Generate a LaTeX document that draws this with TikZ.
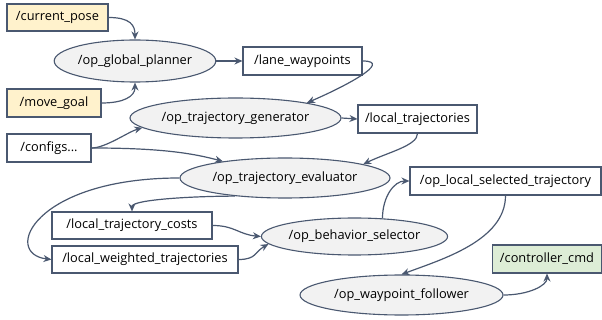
\documentclass[tikz,border=0pt]{standalone}
\usepackage{fontspec}
\setmainfont{Open Sans}
\usetikzlibrary{arrows.meta,shapes.geometric}
\definecolor{edgec}{HTML}{4A5870}
\definecolor{ellfill}{HTML}{F2F2F2}
\definecolor{yel}{HTML}{FFF2CC}
\definecolor{grn}{HTML}{DDEDD6}
\tikzset{
  box/.style={rectangle, draw=edgec, line width=1.1pt, fill=white, inner sep=0pt,
    font=\fontsize{12.8}{14}\selectfont, text=black},
  topic/.style={box, fill=white},
  ynode/.style={box, fill=yel},
  gnode/.style={box, fill=grn},
  proc/.style={ellipse, draw=edgec, line width=1.1pt, fill=ellfill, inner sep=0pt,
    font=\fontsize{12.8}{14}\selectfont, text=black},
  arr/.style={draw=edgec, line width=1.2pt, -{Stealth[length=8pt,width=7pt]}},
}
\begin{document}
\begin{tikzpicture}[x=1pt,y=-1pt]
\useasboundingbox (0,0) rectangle (602,320);
% topics
\node[ynode, minimum width=101, minimum height=27] (cp) at (57.5,17.5) {/current\_pose};
\node[ynode, minimum width=94, minimum height=28] (mg) at (54,103) {/move\_goal};
\node[topic, minimum width=119, minimum height=28] (lw) at (302.5,61) {/lane\_waypoints};
\node[topic, minimum width=119, minimum height=28] (lt) at (417.5,119) {/local\_trajectories};
\node[topic, minimum width=84, minimum height=28] (cf) at (49,148) {/configs...};
\node[topic, minimum width=160, minimum height=27] (ltc) at (132,225.5) {/local\_trajectory\_costs};
\node[topic, minimum width=186, minimum height=27] (lwt) at (145,259.5) {/local\_weighted\_trajectories};
\node[topic, minimum width=191, minimum height=28] (ols) at (505.5,181) {/op\_local\_selected\_trajectory};
\node[gnode, minimum width=109, minimum height=28] (cc) at (547,259) {/controller\_cmd};
% processes
\node[proc, minimum width=160, minimum height=42] (gp) at (135,61) {/op\_global\_planner};
\node[proc, minimum width=211, minimum height=40] (tg) at (235.5,118) {/op\_trajectory\_generator};
\node[proc, minimum width=210, minimum height=40] (ev) at (285,178) {/op\_trajectory\_evaluator};
\node[proc, minimum width=185, minimum height=37] (bs) at (354.5,236.5) {/op\_behavior\_selector};
\node[proc, minimum width=203, minimum height=40] (wf) at (401.5,295) {/op\_waypoint\_follower};
% edges
\draw[arr] (cp.east) .. controls +(22,0) and +(0,-14) .. (gp.north);
\draw[arr] (mg.east) .. controls +(22,0) and +(0,14) .. (gp.south);
\draw[arr] (gp.east) -- (lw.west);
\draw[arr] (lw.east) .. controls +(32,0) and +(35,-15) .. (tg.12);
\draw[arr] (tg.east) -- (lt.west);
\draw[arr] (lt.south) .. controls +(0,12) and +(25,-12) .. (ev.10);
\draw[arr] (cf.east) .. controls +(14,0) and +(-14,4) .. (tg.186);
\draw[arr] (cf.east) .. controls +(70,0) and +(-30,-8) .. (ev.165);
\draw[arr] (ev.west) .. controls +(-145,0) and +(-50,-6) .. (lwt.west);
\draw[arr] (ev.200) .. controls +(-40,0) and +(0,-12) .. (ltc.north);
\draw[arr] (ltc.east) .. controls +(22,0) and +(-22,-2) .. (bs.west);
\draw[arr] (lwt.east) .. controls +(18,0) and +(-14,8) .. (bs.185);
\draw[arr] (bs.33) .. controls +(0,-22) and +(-15,0) .. (ols.west);
\draw[arr] (ols.south) .. controls +(0,45) and +(40,-15) .. (wf.north);
\draw[arr] (wf.east) .. controls +(25,0) and +(0,12) .. (cc.south);
\end{tikzpicture}
\end{document}
